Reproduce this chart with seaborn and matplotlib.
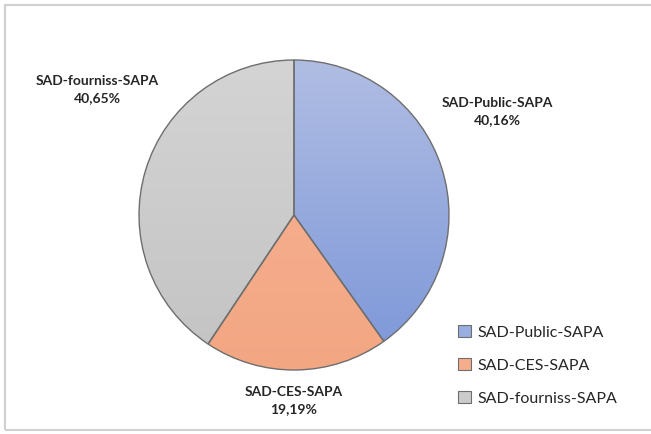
import numpy as np
import matplotlib
matplotlib.use("Agg")
import matplotlib.pyplot as plt
import seaborn as sns
from matplotlib.colors import LinearSegmentedColormap
from matplotlib.patches import Rectangle, Patch

sns.set_theme(style="white")
plt.rcParams['font.family'] = ['Lato', 'DejaVu Sans']

# data
categories = ["SAD-Public-SAPA", "SAD-CES-SAPA", "SAD-fourniss-SAPA"]
shares = [40.16, 19.19, 40.65]
pct_labels = ["40,16%", "19,19%", "40,65%"]

# gradient colours (top, bottom) and legend swatch colour
grad_top = ["#b0bde3", "#f7b497", "#d4d4d4"]
grad_bottom = ["#7b96d8", "#f3a682", "#c3c3c3"]
swatch = ["#98ade0", "#f5ad8b", "#cbcbcb"]

fig = plt.figure(figsize=(6.51, 4.34), dpi=100)
fig.patches.append(Rectangle((5 / 651, 4 / 434), 1.0, 425 / 434, transform=fig.transFigure,
                             fill=False, edgecolor="#d0d0d0", linewidth=1.5))

ax = fig.add_axes([139 / 651, 64 / 434, 310 / 651, 310 / 434])
wedges, _ = ax.pie(shares, startangle=90, counterclock=False, radius=1.0,
                   colors=swatch, wedgeprops=dict(edgecolor="#6e6e6e", linewidth=1.0))

grad = np.linspace(1, 0, 256).reshape(-1, 1)
for w, top, bot in zip(wedges, grad_top, grad_bottom):
    cmap = LinearSegmentedColormap.from_list("g", [bot, top])
    im = ax.imshow(grad, cmap=cmap, extent=(-1, 1, -1, 1), aspect="auto", zorder=w.get_zorder() + 0.1,
                   vmin=0, vmax=1)
    im.set_clip_path(w)
    w.set_facecolor("none")
    w.set_zorder(w.get_zorder() + 0.2)

ax.set_xlim(-1, 1)
ax.set_ylim(-1, 1)
ax.set_aspect("equal")
ax.axis("off")

# outside labels
label_pos = [(1.31, 0.67), (0.0, -1.2), (-1.27, 0.81)]
for (x, y), name, pct in zip(label_pos, categories, pct_labels):
    ax.text(x, y, f"{name}\n{pct}", ha="center", va="center", fontsize=10,
            fontweight="bold", color="#262626", linespacing=1.5)

handles = [Patch(facecolor=c, edgecolor="#6e6e6e", linewidth=0.8) for c in swatch]
fig.legend(handles, categories, loc="lower left", bbox_to_anchor=(444 / 651, 14 / 434),
           frameon=False, fontsize=11.5, labelspacing=1.15, handlelength=0.8, handleheight=0.8,
           handletextpad=0.4, labelcolor="#262626")

fig.savefig("out.png", dpi=100)
